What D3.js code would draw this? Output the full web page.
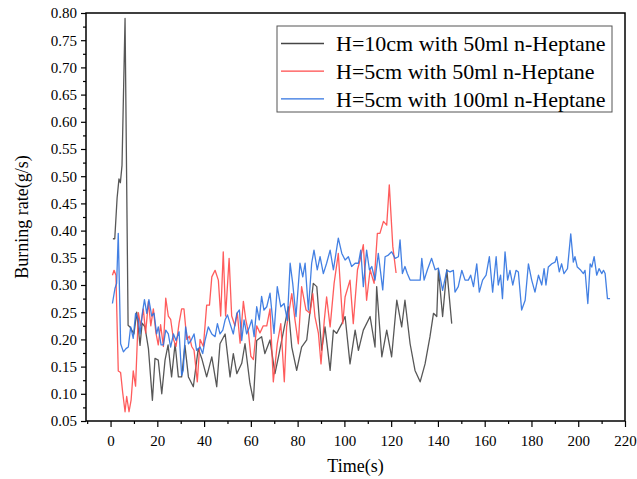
<!DOCTYPE html>
<html>
<head>
<meta charset="utf-8">
<script src="https://cdn.jsdelivr.net/npm/d3@7"></script>
<style>
  body { margin: 0; background: #fff; }
  text { font-family: "Liberation Serif", "Times New Roman", serif; fill: #000; }
</style>
</head>
<body>
<div id="chart"></div>
<script>
// series (time in s, burning rate in g/s)
const seriesNames = ["H=10cm with 50ml n-Heptane", "H=5cm with 50ml n-Heptane", "H=5cm with 100ml n-Heptane"];
const seriesColors = ["#454545", "#ff4a4a", "#2f72e0"];

const grayT = [1,1.8,2.8,3.6,4.2,4.9,6.2,7.5,8.3,10,11.2,12.6,13.5,14.7,16.2,17.9,19,20.4,21.9,23.3,24.6,26.1,27.6,29,30.4,31.8,33.3,35.4,37.5,39,41.1,43.3,45.4,46.8,49,51.1,52.5,54,56.1,57.5,59.6,61.1,62.5,64.6,66,68.2,70.3,71.8,74.6,76,77.5,79.6,81.7,83.9,86.7,88.2,90.3,91.7,93.9,95.3,96.7,98.9,100.3,102.4,104.6,106,108.1,111,113.1,113.8,116,118.1,120.2,122.4,124.5,125.9,128.1,130.2,132.4,134.5,136.6,138.1,139.5,140.2,142,143.8,145.9];
const grayV = [0.385,0.385,0.46,0.495,0.488,0.52,0.79,0.226,0.223,0.21,0.25,0.189,0.23,0.223,0.183,0.088,0.165,0.162,0.10,0.162,0.19,0.131,0.192,0.131,0.131,0.189,0.131,0.113,0.183,0.165,0.131,0.168,0.113,0.192,0.21,0.131,0.174,0.137,0.156,0.192,0.119,0.088,0.198,0.205,0.174,0.199,0.137,0.168,0.229,0.26,0.186,0.143,0.186,0.199,0.303,0.297,0.18,0.223,0.143,0.217,0.211,0.229,0.242,0.155,0.217,0.18,0.217,0.242,0.186,0.297,0.168,0.217,0.168,0.272,0.223,0.272,0.192,0.143,0.122,0.155,0.205,0.248,0.242,0.328,0.242,0.328,0.229];

const redT = [0.8,1.5,2.3,3.3,4.3,5.2,6.2,6.9,7.9,8.8,9.7,10.7,11.9,12.9,14,15,16.2,17.2,18.3,19.4,20.4,21.4,22.6,23.6,24.7,25.7,26.9,28,29.3,30.4,31.4,32.6,33.7,34.7,35.7,37.1,38.3,39.7,41.1,42.3,43.3,44.7,46.1,47.1,48.2,49.2,50.7,51.8,53.2,54.2,55.4,56.8,57.8,59,60,61.1,62.5,63.9,65.3,66.8,68.2,69.6,71.3,72.8,74.3,75.3,77.5,78.9,80.3,81.7,83.6,85.3,86.5,87.4,88.9,90,91.4,92.4,93.9,95.6,97.4,99.3,100.3,102.4,103.8,105.6,106.7,108.1,109.5,111,112.7,114.1,115.2,116.7,118.1,119.2,120.7,122.1];
const redV = [0.318,0.327,0.318,0.142,0.139,0.102,0.067,0.095,0.067,0.089,0.142,0.114,0.249,0.225,0.256,0.212,0.27,0.225,0.256,0.212,0.19,0.227,0.187,0.276,0.243,0.237,0.2,0.187,0.23,0.256,0.256,0.2,0.206,0.187,0.18,0.122,0.2,0.187,0.263,0.263,0.315,0.327,0.309,0.243,0.361,0.243,0.349,0.243,0.225,0.249,0.193,0.27,0.237,0.212,0.169,0.163,0.225,0.212,0.225,0.225,0.256,0.122,0.192,0.229,0.122,0.223,0.284,0.235,0.192,0.297,0.254,0.248,0.284,0.242,0.211,0.155,0.235,0.278,0.223,0.303,0.358,0.229,0.278,0.309,0.229,0.328,0.346,0.374,0.272,0.328,0.303,0.395,0.395,0.417,0.41,0.484,0.371,0.322];

const blueT = [0.8,1.9,2.6,3.3,4.3,5.5,6.6,7.6,8.6,9.7,10.7,11.9,12.6,13.6,14.5,15.5,16.4,17.6,18.6,19.7,20.4,21.6,22.6,23.6,24.7,25.7,26.9,28,29.3,30.4,31.1,32.1,33.3,34.4,35.7,36.8,38.3,39.4,40.4,41.8,43.3,44.7,45.7,46.8,48,49,50,51.1,52.5,54,55.1,56.1,57.1,58.2,59.4,60.4,61.4,62.5,63.6,64.6,65.6,66.8,68.2,69.9,71.3,72.8,74.2,75.6,76.8,77.9,79.3,81,82.2,83.2,84.6,86,87,88.4,89.6,91,92.4,93.9,95.3,97.4,98.9,100.3,101.7,103.1,104.6,106,107,108.1,109.5,110.7,111.7,113.1,114.5,116.4,117.4,118.8,120.2,121.7,123.1,123.8,124.8,125.9,126.9,128.1,129.5,130.9,132.4,133.1,134.1,135.5,137.3,138.8,140.2,142,143.8,145.2,146.6,147.3,148.7,150.2,151.6,153,154,155.2,156.6,157.7,159.1,160.6,162,163.4,164.9,165.8,166.8,167.6,168.7,169.8,170.8,172,173.4,174.4,175.8,177.3,178.7,180.1,181.5,183,184.4,185.4,186.2,187.2,188.7,190.1,190.8,191.9,192.9,193.9,195.4,196.8,197.9,198.6,199.6,201.1,202.2,202.9,204.1,205.1,205.8,206.8,207.9,208.9,210.1,210.8,211.5,212.5,213.6];
const blueV = [0.266,0.294,0.303,0.395,0.192,0.177,0.183,0.186,0.223,0.202,0.248,0.236,0.21,0.248,0.273,0.248,0.273,0.243,0.248,0.21,0.223,0.19,0.19,0.217,0.21,0.186,0.21,0.198,0.214,0.134,0.143,0.223,0.192,0.198,0.21,0.18,0.186,0.174,0.198,0.223,0.21,0.205,0.229,0.21,0.217,0.236,0.245,0.229,0.21,0.248,0.254,0.198,0.236,0.21,0.223,0.236,0.205,0.26,0.236,0.279,0.254,0.26,0.285,0.211,0.297,0.26,0.266,0.235,0.34,0.303,0.242,0.34,0.315,0.34,0.254,0.34,0.364,0.328,0.352,0.321,0.34,0.364,0.328,0.386,0.358,0.346,0.352,0.334,0.34,0.34,0.364,0.297,0.364,0.328,0.334,0.309,0.358,0.291,0.352,0.355,0.361,0.349,0.352,0.383,0.321,0.334,0.321,0.309,0.309,0.309,0.309,0.349,0.309,0.328,0.349,0.328,0.331,0.29,0.327,0.324,0.327,0.287,0.297,0.327,0.309,0.309,0.318,0.297,0.339,0.287,0.309,0.318,0.352,0.287,0.352,0.3,0.318,0.275,0.361,0.309,0.327,0.3,0.327,0.324,0.254,0.272,0.339,0.309,0.287,0.318,0.3,0.33,0.3,0.333,0.339,0.342,0.352,0.324,0.339,0.321,0.33,0.394,0.342,0.352,0.333,0.327,0.321,0.327,0.266,0.339,0.333,0.352,0.318,0.33,0.321,0.327,0.321,0.275,0.275];

const xTicks = d3.range(0, 221, 20);
const yTicks = d3.range(0.05, 0.801, 0.05);

const W = 637, H = 479;
const margin = {top: 13, right: 12, bottom: 58, left: 86};

const svg = d3.select("#chart").append("svg")
  .attr("width", W).attr("height", H);

const x = d3.scaleLinear().domain([-10.5, 220]).range([margin.left, W - margin.right]);
const y = d3.scaleLinear().domain([0.05, 0.80]).range([H - margin.bottom, margin.top]);

const series = [
  grayT.map((t, i) => [t, grayV[i]]),
  redT.map((t, i) => [t, redV[i]]),
  blueT.map((t, i) => [t, blueV[i]])
];

const line = d3.line().x(d => x(d[0])).y(d => y(d[1]));

svg.append("g")
  .selectAll("path")
  .data(series)
  .enter()
  .append("path")
    .attr("d", line)
    .attr("fill", "none")
    .attr("stroke", (d, i) => seriesColors[i])
    .attr("stroke-width", 1.3)
    .attr("stroke-linejoin", "round")
    .attr("stroke-opacity", 0.9);

// axes
const xAxis = svg.append("g")
  .attr("transform", `translate(0, ${y(0.05)})`)
  .call(d3.axisBottom(x).tickValues(xTicks).tickSize(6).tickPadding(5).tickFormat(d3.format("d")));
const xMinor = svg.append("g")
  .attr("transform", `translate(0, ${y(0.05)})`)
  .call(d3.axisBottom(x).tickValues(d3.range(-10, 221, 20)).tickSize(3).tickFormat(""));

const yAxis = svg.append("g")
  .attr("transform", `translate(${x(-10.5)}, 0)`)
  .call(d3.axisLeft(y).tickValues(yTicks).tickSize(5).tickPadding(4).tickFormat(d3.format(".2f")));
const yMinor = svg.append("g")
  .attr("transform", `translate(${x(-10.5)}, 0)`)
  .call(d3.axisLeft(y).tickValues(d3.range(0.075, 0.8, 0.05)).tickSize(3).tickFormat(""));

[xAxis, xMinor, yAxis, yMinor].forEach(g => {
  g.attr("font-family", "Liberation Serif").attr("font-size", 15);
  g.select(".domain").remove();
  g.selectAll("line").attr("stroke", "#000").attr("stroke-width", 1.2);
  g.selectAll("text").style("font-family", "'Liberation Serif', serif").style("font-size", "15px");
});
xAxis.selectAll("text").attr("dy", "0.9em");

// frame
svg.append("rect")
  .attr("x", x(-10.5)).attr("y", y(0.80))
  .attr("width", x(220) - x(-10.5)).attr("height", y(0.05) - y(0.80))
  .attr("fill", "none").attr("stroke", "#000").attr("stroke-width", 1.5);

// axis titles
svg.append("text")
  .attr("x", (x(-10.5) + x(220)) / 2).attr("y", 472)
  .attr("text-anchor", "middle")
  .style("font-size", "18px")
  .text("Time(s)");

svg.append("text")
  .attr("transform", `translate(28, ${(y(0.05) + y(0.80)) / 2}) rotate(-90)`)
  .attr("text-anchor", "middle")
  .style("font-size", "18px")
  .text("Burning rate(g/s)");

// legend
const legend = svg.append("g").attr("transform", "translate(277, 26)");
legend.append("rect")
  .attr("width", 335).attr("height", 86)
  .attr("fill", "#fff").attr("stroke", "#555").attr("stroke-width", 1);
const rows = legend.selectAll("g.row")
  .data(seriesNames)
  .enter().append("g")
  .attr("transform", (d, i) => `translate(0, ${17.5 + i * 27.7})`);
rows.append("line")
  .attr("x1", 4).attr("x2", 47)
  .attr("stroke", (d, i) => seriesColors[i]).attr("stroke-width", 1.3);
rows.append("text")
  .attr("x", 59).attr("dy", "0.35em")
  .style("font-size", "22px")
  .text(d => d);
</script>
</body>
</html>
